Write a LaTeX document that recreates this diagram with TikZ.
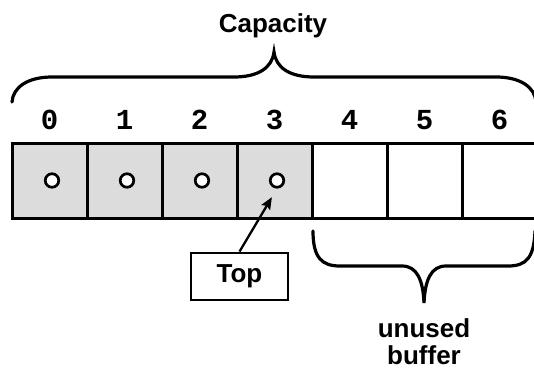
\documentclass[tikz,border=0pt]{standalone}
\usepackage{fontspec}
\setmainfont{Liberation Sans}
\newfontfamily\codefont{Liberation Mono}
\usetikzlibrary{arrows.meta,positioning}
\definecolor{usedgray}{RGB}{220,220,220}
\tikzset{
    stack diagram/.style = {x=1pt, y=1pt, >={Stealth[length=12pt, width=10pt, inset=2pt]}},
    cell/.style        = {draw, line width=3pt, minimum size=75pt,
                          inner sep=0pt, fill=white},
    used cell/.style   = {cell, fill=usedgray},
    item/.style        = {draw, circle, line width=2.7pt, fill=white,
                          minimum size=13.5pt, inner sep=0pt},
    idx/.style         = {font=\codefont\bfseries\fontsize{29}{30}\selectfont,
                          anchor=base, inner sep=0pt},
    lbl/.style         = {font=\bfseries\fontsize{26}{27}\selectfont},
    pointer box/.style = {draw, line width=2.8pt, fill=white, lbl,
                          minimum width=97pt, minimum height=47pt},
    brace line/.style  = {line width=3.2pt, line cap=round},
    pointer/.style     = {->, line width=2.3pt}
}
\begin{document}
\begin{tikzpicture}[stack diagram]
\useasboundingbox (0,0) rectangle (534,370);

% ================= Array cells =================
\foreach \i in {0,...,6} {
    \ifnum\i<4
        \node[used cell] (c\i) at (49.5+75*\i, 189.5) {};
        \node[item] (d\i) at ([xshift=2.5pt]c\i.center) {};
    \else
        \node[cell] (c\i) at (49.5+75*\i, 189.5) {};
    \fi
    \node[idx] (n\i) at ([yshift=12pt]c\i.north) {\i};
}

% ================= Capacity brace =================
\draw[brace line] (12,268) .. controls (13,283) and (28,293) .. (52,293)
    -- (234,293) .. controls (258,293) and (272,302) .. (274,318)
    .. controls (276,302) and (290,293) .. (314,293)
    -- (496,293) .. controls (520,293) and (535,283) .. (536,268);
\node[lbl, anchor=base] (cap) at (273,337) {Capacity};

% ================= Top pointer =================
\node[pointer box] (top) at (239.5,93.5) {Top};
\draw[pointer, shorten >=10pt] (top.north) -- (d3.south);

% ================= Unused buffer brace =================
\draw[brace line] (313,139) .. controls (313,112) and (322,104) .. (340,104)
    -- (402,104) .. controls (417,104) and (423,90) .. (424,67)
    .. controls (425,90) and (431,104) .. (446,104)
    -- (508,104) .. controls (526,104) and (534,112) .. (535,139);
\node[lbl, align=center, anchor=north, inner sep=0pt] (unused) at (424,52)
    {unused\\buffer};

\end{tikzpicture}
\end{document}
